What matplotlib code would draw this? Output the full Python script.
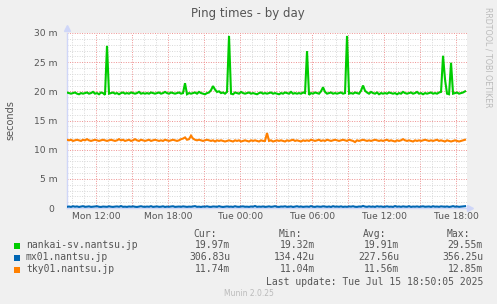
import numpy as np
import matplotlib
matplotlib.use("Agg")
import matplotlib.pyplot as plt
from matplotlib.ticker import MultipleLocator, FixedLocator

# sample times: hours since Mon 00:00, 10-minute steps
t_start = 9.55
n_pts = 200

# nankai-sv.nantsu.jp (ms)
green = [
    19.8, 19.7, 19.6, 19.7, 19.8, 19.6, 19.5, 19.7, 19.6, 19.7, 19.8, 19.6, 19.7, 19.9, 19.6, 19.7, 19.5, 19.8, 19.7, 19.4,
    27.8, 19.6, 19.7, 19.8, 19.6, 19.7, 19.5, 19.7, 19.8, 19.6, 19.7, 19.6, 19.8, 19.7, 19.6, 19.7, 19.9, 19.6, 19.7, 19.6,
    19.7, 19.6, 19.8, 19.7, 19.6, 19.7, 19.8, 19.6, 19.7, 19.9, 19.7, 19.6, 19.8, 19.7, 19.6, 19.7, 19.8, 19.6, 19.7, 21.4,
    19.5, 19.7, 19.6, 19.7, 19.8, 19.6, 19.9, 19.7, 19.6, 19.5, 19.7, 19.8, 20.2, 20.9, 20.3, 19.9, 20.0, 19.7, 19.8, 19.6,
    19.9, 29.5, 19.6, 19.5, 19.8, 19.7, 19.6, 19.9, 19.7, 19.6, 19.7, 19.8, 19.6, 19.7, 19.6, 19.5, 19.7, 19.8, 19.6, 19.7,
    19.6, 19.7, 19.8, 19.6, 19.7, 19.6, 19.5, 19.7, 19.6, 19.8, 19.7, 19.6, 19.9, 19.6, 19.7, 19.6, 19.7, 19.6, 19.8, 19.7,
    26.9, 19.4, 19.7, 19.6, 19.8, 19.7, 19.6, 20.0, 20.7, 19.9, 19.6, 19.7, 19.8, 19.6, 19.7, 19.6, 19.7, 19.8, 19.6, 19.7,
    29.5, 19.6, 19.7, 19.6, 19.8, 19.7, 19.6, 20.1, 21.0, 20.1, 19.8, 19.6, 19.9, 19.7, 19.6, 19.8, 19.5, 19.7, 19.6, 19.7,
    19.6, 19.8, 19.7, 19.6, 19.7, 19.5, 19.7, 19.6, 19.9, 19.7, 19.6, 19.7, 19.8, 19.6, 19.7, 19.9, 19.6, 19.7, 19.5, 19.7,
    19.6, 19.7, 19.8, 19.6, 19.7, 19.6, 19.8, 19.9, 26.1, 22.0, 19.6, 19.5, 24.9, 19.6, 19.7, 19.8, 19.6, 19.7, 19.8, 20.0,
]

# mx01.nantsu.jp (ms)
blue = [
    0.21, 0.25, 0.19, 0.30, 0.22, 0.27, 0.18, 0.24, 0.31, 0.20, 0.23, 0.28, 0.19, 0.22, 0.26, 0.30, 0.21, 0.18, 0.25, 0.23,
    0.20, 0.29, 0.22, 0.19, 0.24, 0.27, 0.21, 0.33, 0.20, 0.23, 0.19, 0.26, 0.22, 0.28, 0.21, 0.18, 0.24, 0.30, 0.22, 0.20,
    0.25, 0.21, 0.31, 0.19, 0.23, 0.27, 0.20, 0.22, 0.29, 0.18, 0.24, 0.21, 0.26, 0.30, 0.19, 0.22, 0.25, 0.20, 0.28, 0.23,
    0.19, 0.24, 0.21, 0.27, 0.32, 0.20, 0.23, 0.18, 0.25, 0.22, 0.29, 0.21, 0.19, 0.26, 0.24, 0.20, 0.31, 0.22, 0.18, 0.23,
    0.27, 0.21, 0.24, 0.19, 0.30, 0.22, 0.20, 0.25, 0.28, 0.21, 0.23, 0.19, 0.26, 0.22, 0.34, 0.20, 0.24, 0.21, 0.27, 0.19,
    0.22, 0.28, 0.20, 0.24, 0.31, 0.21, 0.19, 0.25, 0.23, 0.29, 0.20, 0.22, 0.27, 0.18, 0.24, 0.30, 0.21, 0.26, 0.19, 0.23,
    0.25, 0.20, 0.32, 0.22, 0.19, 0.27, 0.23, 0.21, 0.29, 0.24, 0.20, 0.26, 0.18, 0.31, 0.22, 0.25, 0.21, 0.28, 0.19, 0.24,
    0.20, 0.27, 0.23, 0.30, 0.21, 0.19, 0.26, 0.22, 0.35, 0.24, 0.20, 0.28, 0.21, 0.25, 0.19, 0.30, 0.23, 0.27, 0.20, 0.22,
    0.29, 0.21, 0.24, 0.19, 0.33, 0.22, 0.26, 0.20, 0.28, 0.23, 0.21, 0.31, 0.19, 0.25, 0.22, 0.27, 0.20, 0.24, 0.29, 0.21,
    0.23, 0.26, 0.19, 0.30, 0.22, 0.25, 0.20, 0.28, 0.24, 0.21, 0.27, 0.19, 0.23, 0.32, 0.22, 0.26, 0.20, 0.24, 0.28, 0.31,
]

# tky01.nantsu.jp (ms)
orange = [
    11.7, 11.6, 11.7, 11.5, 11.6, 11.7, 11.6, 11.5, 11.7, 11.6, 11.8, 11.6, 11.5, 11.6, 11.7, 11.6, 11.5, 11.6, 11.7, 11.6,
    11.5, 11.6, 11.7, 11.6, 11.5, 11.6, 11.8, 11.6, 11.7, 11.5, 11.6, 11.7, 11.5, 11.6, 11.8, 11.6, 11.5, 11.7, 11.6, 11.5,
    11.6, 11.7, 11.5, 11.6, 11.7, 11.6, 11.5, 11.6, 11.5, 11.7, 11.6, 11.5, 11.6, 11.7, 11.6, 11.5, 11.6, 11.8, 11.9, 12.1,
    11.7, 11.8, 12.4, 11.9, 11.7, 11.6, 11.7, 11.6, 11.5, 11.6, 11.7, 11.6, 11.5, 11.6, 11.4, 11.6, 11.5, 11.6, 11.5, 11.4,
    11.5, 11.6, 11.5, 11.4, 11.6, 11.5, 11.6, 11.4, 11.5, 11.6, 11.5, 11.4, 11.6, 11.5, 11.6, 11.5, 11.4, 11.6, 11.5, 11.5,
    12.85, 11.5, 11.6, 11.4, 11.5, 11.6, 11.5, 11.6, 11.5, 11.4, 11.6, 11.5, 11.6, 11.7, 11.5, 11.6, 11.5, 11.4, 11.6, 11.5,
    11.6, 11.5, 11.7, 11.6, 11.5, 11.6, 11.7, 11.5, 11.6, 11.5, 11.7, 11.6, 11.5, 11.6, 11.7, 11.6, 11.5, 11.6, 11.7, 11.6,
    11.5, 11.7, 11.6, 11.5, 11.3, 11.6, 11.5, 11.6, 11.7, 11.6, 11.5, 11.6, 11.5, 11.6, 11.7, 11.6, 11.5, 11.6, 11.5, 11.6,
    11.7, 11.5, 11.6, 11.5, 11.4, 11.6, 11.5, 11.6, 11.8, 11.6, 11.5, 11.6, 11.5, 11.4, 11.6, 11.5, 11.6, 11.5, 11.6, 11.7,
    11.6, 11.5, 11.6, 11.5, 11.6, 11.7, 11.5, 11.6, 11.5, 11.4, 11.6, 11.5, 11.4, 11.5, 11.6, 11.5, 11.4, 11.5, 11.6, 11.7,
]

series_names = ["nankai-sv.nantsu.jp", "mx01.nantsu.jp", "tky01.nantsu.jp"]
series_colors = ["#00CC00", "#0066B3", "#FF8000"]
stat_cur = ["19.97m", "306.83u", "11.74m"]
stat_min = ["19.32m", "134.42u", "11.04m"]
stat_avg = ["19.91m", "227.56u", "11.56m"]
stat_max = ["29.55m", "356.25u", "12.85m"]

y_ticks = [0, 5, 10, 15, 20, 25, 30]
y_labels = ["0 ", "5 m", "10 m", "15 m", "20 m", "25 m", "30 m"]
x_ticks = [12, 18, 24, 30, 36, 42]
x_labels = ["Mon 12:00", "Mon 18:00", "Tue 00:00", "Tue 06:00", "Tue 12:00", "Tue 18:00"]

W, H = 497, 304
fig = plt.figure(figsize=(W / 100, H / 100), dpi=100, facecolor="#F0F0F0")
ax = fig.add_axes([67 / W, (H - 208) / H, 400 / W, 175 / H])
ax.set_facecolor("#FFFFFF")

t = t_start + np.arange(n_pts) / 6.0
for vals, col in zip([green, blue, orange], series_colors):
    ax.plot(t, vals, color=col, lw=1.5, solid_joinstyle="miter", zorder=3)

ax.set_xlim(9.55, 42.88)
ax.set_ylim(0, 30)

# rrdtool style dotted grid
ax.xaxis.set_minor_locator(MultipleLocator(1))
ax.yaxis.set_minor_locator(MultipleLocator(1))
for h in np.arange(10, 43, 1):
    col = "#EE9090" if h % 3 == 0 else "#D8D8D8"
    ax.axvline(h, color=col, lw=0.7, ls=(0, (1, 1.5)), zorder=1)
for v in range(1, 31):
    col = "#EE9090" if v % 5 == 0 else "#D8D8D8"
    ax.axhline(v, color=col, lw=0.7, ls=(0, (1, 1.5)), zorder=1)

ax.xaxis.set_major_locator(FixedLocator(x_ticks))
ax.set_xticklabels(x_labels)
ax.yaxis.set_major_locator(FixedLocator(y_ticks))
ax.set_yticklabels(y_labels)
ax.tick_params(which="both", length=0, colors="#555555", labelsize=6.6)
ax.tick_params(axis="x", pad=3)
ax.tick_params(axis="y", pad=7)

for s in ["top", "right"]:
    ax.spines[s].set_visible(False)
for s in ["left", "bottom"]:
    ax.spines[s].set_color("#CFD6F8")
    ax.spines[s].set_linewidth(1.0)
    ax.spines[s].set_zorder(2)

# axis arrows
ax.plot([0], [1.03], marker="^", color="#CFD6F8", ms=5, transform=ax.transAxes, clip_on=False)
ax.plot([1.008], [0], marker=">", color="#CFD6F8", ms=5, transform=ax.transAxes, clip_on=False)

def fx(px):
    return px / W

def fy(py):
    return 1 - py / H

fig.text(fx(248), fy(13), "Ping times - by day", ha="center", va="center", fontsize=8.5, color="#555555")
fig.text(fx(10), fy(120), "seconds", rotation=90, ha="center", va="center", fontsize=7, color="#555555")
fig.text(fx(488), fy(57), "RRDTOOL / TOBI OETIKER", rotation=270, ha="center", va="center",
         fontsize=5.7, color="#BBBBBB")

mono = dict(family="DejaVu Sans Mono", fontsize=7, color="#555555", va="center")
for label, x in zip(["Cur:", "Min:", "Avg:", "Max:"], [217, 302, 386, 470]):
    fig.text(fx(x), fy(234), label, ha="right", **mono)

rows_y = [245.5, 257.5, 269.5]
for i, name in enumerate(series_names):
    y = rows_y[i]
    fig.patches.append(plt.Rectangle((fx(14), fy(y + 3)), 6 / W, 6 / H, transform=fig.transFigure,
                                     facecolor=series_colors[i], edgecolor="none"))
    fig.text(fx(26), fy(y), name, ha="left", **mono)
    for vals, x in zip([stat_cur, stat_min, stat_avg, stat_max], [230, 315, 399, 483]):
        fig.text(fx(x), fy(y), vals[i], ha="right", **mono)

fig.text(fx(483), fy(282), "Last update: Tue Jul 15 18:50:05 2025", ha="right", **mono)
fig.text(fx(249), fy(293), "Munin 2.0.25", ha="center", va="center", fontsize=5.5, color="#BBBBBB")

fig.savefig("out.png", dpi=100, facecolor=fig.get_facecolor())
